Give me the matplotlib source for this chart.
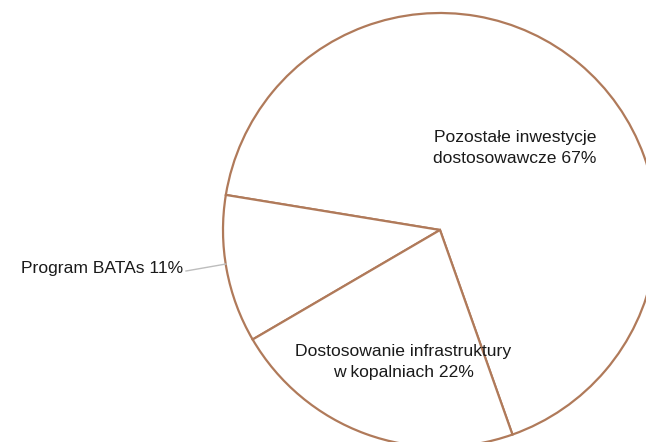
import matplotlib.pyplot as plt

# Udziały poszczególnych pozycji (%)
labels = ['Pozostałe inwestycje\ndostosowawcze 67%', 'Program BATAs 11%',
          'Dostosowanie infrastruktury\nw kopalniach 22%']
values = [67, 11, 22]

edge = '#b07a5a'

fig = plt.figure(figsize=(6.46, 4.42), dpi=100)
ax = fig.add_axes([0, 0, 1, 1])

cx, cy, r = 440, 442 - 230, 217
wedges, _ = ax.pie(values, startangle=-70.5, counterclock=True, center=(cx, cy), radius=r,
                   colors=['white'] * 3,
                   wedgeprops=dict(edgecolor=edge, linewidth=1.6))

ax.set_xlim(0, 646)
ax.set_ylim(0, 442)
ax.set_aspect('equal')
ax.axis('off')

font = dict(family=['Liberation Sans', 'DejaVu Sans'], fontsize=12.6, color='#1a1a1a')
ax.text(515, 442 - 148, labels[0], ha='center', va='center', linespacing=1.45, **font)
ax.text(403, 442 - 362, labels[2], ha='center', va='center', linespacing=1.45, **font)
ax.text(183, 442 - 268, labels[1], ha='right', va='center', **font)
ax.plot([186, 226], [442 - 271, 442 - 264], color='#bdbdbd', lw=1)

fig.savefig('out.png', dpi=100)
